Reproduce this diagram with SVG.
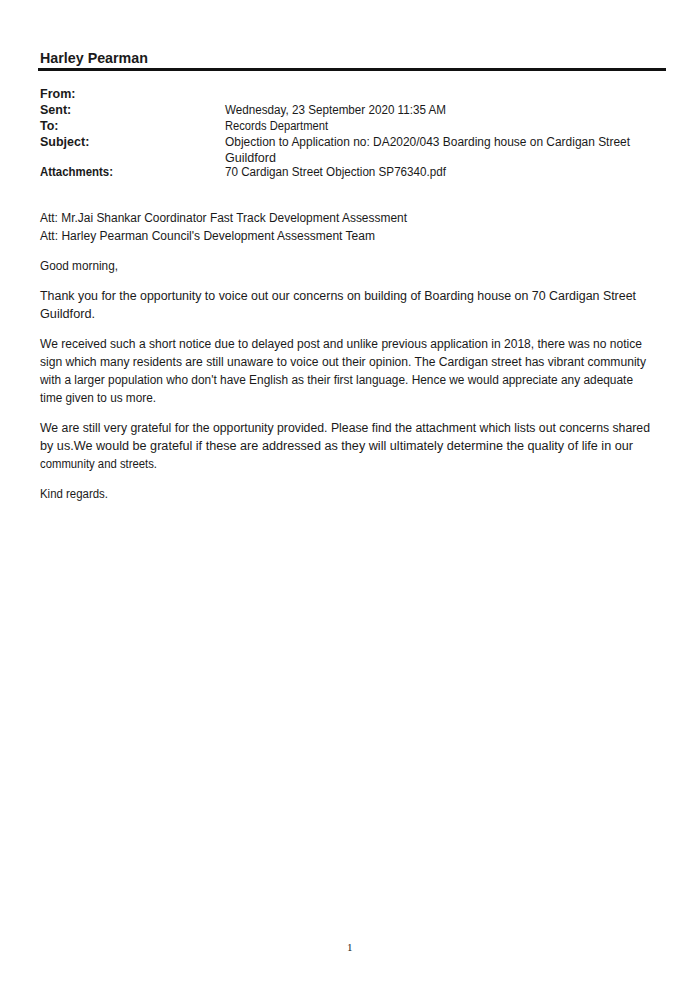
<svg xmlns="http://www.w3.org/2000/svg" width="694" height="990" viewBox="0 0 694 990">
<style>
text{font-family:"Liberation Sans","Open Sans",sans-serif;font-size:12.5px;fill:#1a1a1a}
.b{font-weight:bold}
.h{font-weight:bold;font-size:15px}
.pg{font-family:"Liberation Serif",serif;font-size:11px}
</style>
<rect width="694" height="990" fill="#fff"/>
<g id="header">
<text class="h" x="40" y="63" textLength="108" lengthAdjust="spacingAndGlyphs">Harley Pearman</text>
<rect x="38" y="68" width="628" height="3" fill="#111"/>
</g>
<g id="fields">
<text class="b" x="40" y="98">From:</text>
<text class="b" x="40" y="114">Sent:</text>
<text class="b" x="40" y="130">To:</text>
<text class="b" x="40" y="146">Subject:</text>
<text class="b" x="40" y="176" textLength="73" lengthAdjust="spacingAndGlyphs">Attachments:</text>
<text x="225" y="114" textLength="221" lengthAdjust="spacingAndGlyphs">Wednesday, 23 September 2020 11:35 AM</text>
<text x="225" y="130" textLength="103" lengthAdjust="spacingAndGlyphs">Records Department</text>
<text x="225" y="146" textLength="405" lengthAdjust="spacingAndGlyphs">Objection to Application no: DA2020/043 Boarding house on Cardigan Street</text>
<text x="225" y="162" textLength="51" lengthAdjust="spacingAndGlyphs">Guildford</text>
<text x="225" y="176" textLength="221" lengthAdjust="spacingAndGlyphs">70 Cardigan Street Objection SP76340.pdf</text>
</g>
<g id="body">
<text x="40" y="222" textLength="367" lengthAdjust="spacingAndGlyphs">Att: Mr.Jai Shankar Coordinator Fast Track Development Assessment</text>
<text x="40" y="240" textLength="335" lengthAdjust="spacingAndGlyphs">Att: Harley Pearman Council's Development Assessment Team</text>
<text x="40" y="270" textLength="78" lengthAdjust="spacingAndGlyphs">Good morning,</text>
<text x="40" y="300" textLength="596" lengthAdjust="spacingAndGlyphs">Thank you for the opportunity to voice out our concerns on building of Boarding house on 70 Cardigan Street</text>
<text x="40" y="318" textLength="55" lengthAdjust="spacingAndGlyphs">Guildford.</text>
<text x="40" y="348" textLength="602" lengthAdjust="spacingAndGlyphs">We received such a short notice due to delayed post and unlike previous application in 2018, there was no notice</text>
<text x="40" y="366" textLength="606" lengthAdjust="spacingAndGlyphs">sign which many residents are still unaware to voice out their opinion. The Cardigan street has vibrant community</text>
<text x="40" y="384" textLength="593" lengthAdjust="spacingAndGlyphs">with a larger population who don't have English as their first language. Hence we would appreciate any adequate</text>
<text x="40" y="402" textLength="116" lengthAdjust="spacingAndGlyphs">time given to us more.</text>
<text x="40" y="432" textLength="610" lengthAdjust="spacingAndGlyphs">We are still very grateful for the opportunity provided. Please find the attachment which lists out concerns shared</text>
<text x="40" y="450" textLength="593" lengthAdjust="spacingAndGlyphs">by us.We would be grateful if these are addressed as they will ultimately determine the quality of life in our</text>
<text x="40" y="468" textLength="117" lengthAdjust="spacingAndGlyphs">community and streets.</text>
<text x="40" y="498" textLength="68" lengthAdjust="spacingAndGlyphs">Kind regards.</text>
</g>
<text class="pg" x="347" y="951">1</text>
</svg>
